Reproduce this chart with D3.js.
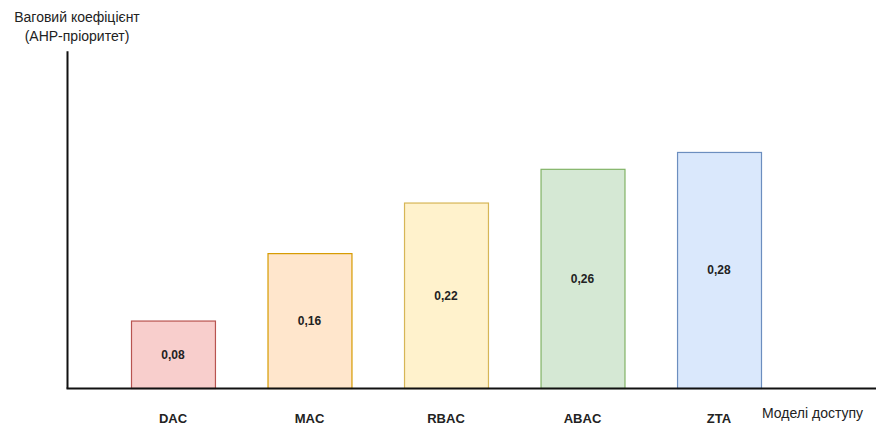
<!DOCTYPE html>
<html>
<head>
<meta charset="utf-8">
<script src="https://cdn.jsdelivr.net/npm/d3@7"></script>
<style>
html,body{margin:0;padding:0;background:#fff;}
svg{display:block;font-family:"Liberation Sans",Arial,sans-serif;}
</style>
</head>
<body>
<svg id="chart" width="876" height="427"></svg>
<script>
const categories = ["DAC", "MAC", "RBAC", "ABAC", "ZTA"];
const values = [0.08, 0.16, 0.22, 0.26, 0.28];
const valueLabels = ["0,08", "0,16", "0,22", "0,26", "0,28"];
const fills = ["#f8cecc", "#ffe6cc", "#fff2cc", "#d5e8d4", "#dae8fc"];
const strokes = ["#b85450", "#d79b00", "#d6b656", "#82b366", "#6c8ebf"];
const yTitle = ["Ваговий коефіцієнт", "(AHP-пріоритет)"];
const xTitle = "Моделі доступу";

const svg = d3.select("#chart");
const x = d3.scaleBand().domain(categories).range([131, 761]).paddingInner(0.385).paddingOuter(0);
const y = d3.scaleLinear().domain([0, 0.4]).range([388, 50.8]);

// bars
svg.selectAll("rect.bar").data(values).enter().append("rect")
  .attr("class", "bar")
  .attr("x", (d, i) => x(categories[i]) + 0.5)
  .attr("y", d => y(d) + 0.5)
  .attr("width", x.bandwidth())
  .attr("height", d => y(0) - y(d))
  .attr("fill", (d, i) => fills[i])
  .attr("stroke", (d, i) => strokes[i])
  .attr("stroke-width", 1.2);

// value labels
svg.selectAll("text.val").data(values).enter().append("text")
  .attr("class", "val")
  .attr("x", (d, i) => x(categories[i]) + x.bandwidth() / 2)
  .attr("y", d => (y(d) + y(0)) / 2 + 4.5)
  .attr("text-anchor", "middle")
  .attr("font-size", 12)
  .attr("font-weight", "bold")
  .attr("fill", "#222")
  .text((d, i) => valueLabels[i]);

// axes
const yAxisG = svg.append("g").attr("transform", "translate(67,0)")
  .call(d3.axisLeft(y).ticks(0).tickSize(0).tickFormat(""));
yAxisG.select(".domain").attr("stroke", "#111").attr("stroke-width", 2);

const xLine = d3.scaleLinear().domain([0, 1]).range([66, 876]);
const xAxisG = svg.append("g").attr("transform", "translate(0,388)")
  .call(d3.axisBottom(xLine).ticks(0).tickSize(0).tickFormat(""));
xAxisG.select(".domain").attr("stroke", "#111").attr("stroke-width", 2);

// category labels
svg.selectAll("text.cat").data(categories).enter().append("text")
  .attr("class", "cat")
  .attr("x", d => x(d) + x.bandwidth() / 2)
  .attr("y", 423)
  .attr("text-anchor", "middle")
  .attr("font-size", 13)
  .attr("font-weight", "bold")
  .attr("fill", "#222")
  .text(d => d);

// titles
svg.selectAll("text.yt").data(yTitle).enter().append("text")
  .attr("class", "yt")
  .attr("x", 77)
  .attr("y", (d, i) => 22 + i * 19)
  .attr("text-anchor", "middle")
  .attr("font-size", 14)
  .attr("fill", "#222")
  .text(d => d);

svg.append("text")
  .attr("x", 762)
  .attr("y", 418)
  .attr("font-size", 14)
  .attr("fill", "#222")
  .text(xTitle);
</script>
</body>
</html>
